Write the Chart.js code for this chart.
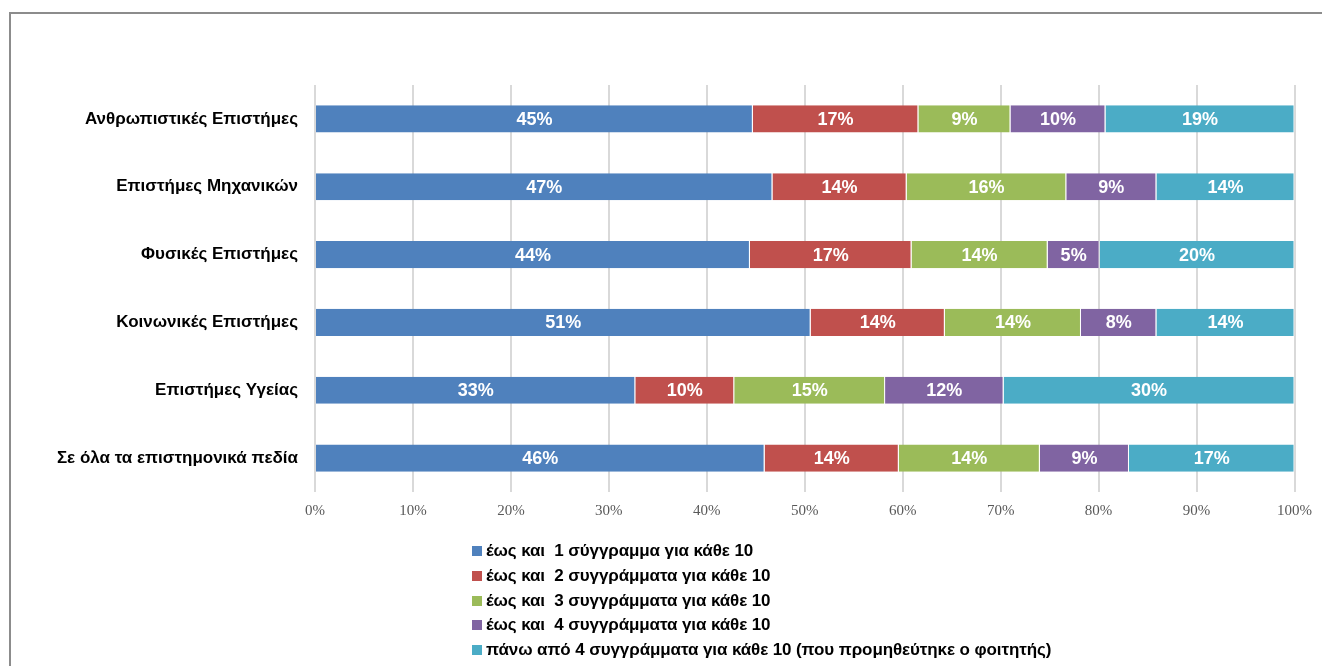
<!DOCTYPE html>
<html>
<head>
<meta charset="utf-8">
<script src="https://cdn.jsdelivr.net/npm/chart.js@4"></script>
<style>
  body { margin: 0; background: #fff; overflow: hidden; }
  #wrap { position: relative; width: 1322px; height: 666px; }
  #frame { position: absolute; left: 9px; top: 12px; width: 1400px; height: 700px; border: 2px solid #8c8c8c; box-sizing: border-box; }
  canvas { position: absolute; left: 0; top: 0; }
  #legend { position: absolute; left: 472px; top: 539px; margin: 0; padding: 0; list-style: none;
    font-family: "Liberation Sans", Arial, sans-serif; font-weight: bold; font-size: 17px; color: #000; letter-spacing: -0.1px; }
  #legend li { height: 24.8px; line-height: 24.8px; white-space: pre; }
  #legend span { display: inline-block; width: 10px; height: 10px; margin-right: 4px; vertical-align: 0px; }
</style>
</head>
<body>
<div id="wrap">
  <div id="frame"></div>
  <canvas id="chart" width="1322" height="666"></canvas>
  <ul id="legend"></ul>
</div>
<script>
const categories = [
  'Ανθρωπιστικές Επιστήμες',
  'Επιστήμες Μηχανικών',
  'Φυσικές Επιστήμες',
  'Κοινωνικές Επιστήμες',
  'Επιστήμες Υγείας',
  'Σε όλα τα επιστημονικά πεδία'
];

const seriesNames = [
  'έως και  1 σύγγραμμα για κάθε 10',
  'έως και  2 συγγράμματα για κάθε 10',
  'έως και  3 συγγράμματα για κάθε 10',
  'έως και  4 συγγράμματα για κάθε 10',
  'πάνω από 4 συγγράμματα για κάθε 10 (που προμηθεύτηκε ο φοιτητής)'
];

// percent of students
const upTo1 = [44.7, 46.7, 44.4, 50.6, 32.7, 45.9];
const upTo2 = [16.9, 13.7, 16.5, 13.7, 10.1, 13.7];
const upTo3 = [9.4, 16.3, 13.9, 13.9, 15.4, 14.4];
const upTo4 = [9.7, 9.2, 5.3, 7.7, 12.1, 9.1];
const over4 = [19.3, 14.1, 19.9, 14.1, 29.7, 16.9];

const xTicks = [0, 10, 20, 30, 40, 50, 60, 70, 80, 90, 100];

const colors = ['#4f81bd', '#c0504d', '#9bbb59', '#8064a2', '#4bacc6'];
const allSeries = [upTo1, upTo2, upTo3, upTo4, over4];

const barLabels = {
  id: 'barLabels',
  afterDatasetsDraw(chart) {
    const ctx = chart.ctx;
    ctx.save();
    ctx.fillStyle = '#fff';
    ctx.font = 'bold 18px "Liberation Sans", Arial, sans-serif';
    ctx.textAlign = 'center';
    ctx.textBaseline = 'middle';
    chart.data.datasets.forEach((ds, i) => {
      chart.getDatasetMeta(i).data.forEach((bar, j) => {
        const c = bar.getCenterPoint();
        ctx.fillText(Math.round(ds.data[j]) + '%', c.x, c.y + 1);
      });
    });
    ctx.restore();
  }
};

const config = {
  type: 'bar',
  data: {
    labels: categories,
    datasets: allSeries.map((d, i) => ({
      label: seriesNames[i],
      data: d,
      backgroundColor: colors[i],
      borderColor: '#fff',
      borderWidth: { left: 0, right: 1, top: 0, bottom: 0 },
      borderSkipped: false,
      barPercentage: 0.4,
      categoryPercentage: 1
    }))
  },
  options: {
    indexAxis: 'y',
    responsive: false,
    animation: false,
    layout: { padding: { top: 85, right: 27, bottom: 144, left: 0 } },
    plugins: {
      legend: { display: false },
      tooltip: { enabled: false }
    },
    scales: {
      x: {
        stacked: true,
        min: 0,
        max: 100,
        afterBuildTicks(scale) { scale.ticks = xTicks.map(v => ({ value: v })); },
        afterFit(scale) { scale.height = 30; },
        grid: { color: '#d9d9d9', lineWidth: 2, drawTicks: false },
        border: { display: false },
        ticks: {
          padding: 10,
          color: '#595959',
          font: { family: '"Liberation Serif", "Times New Roman", serif', size: 15 },
          callback: v => v + '%'
        }
      },
      y: {
        stacked: true,
        afterFit(scale) { scale.width = 315; },
        grid: { display: false, drawTicks: false },
        border: { display: false },
        ticks: {
          padding: 17,
          color: '#000',
          font: { family: '"Liberation Sans", Arial, sans-serif', size: 17, weight: 'bold' }
        }
      }
    }
  },
  plugins: [barLabels]
};

const chart = new Chart(document.getElementById('chart').getContext('2d'), config);

const legendList = document.getElementById('legend');
chart.data.datasets.forEach(ds => {
  const li = document.createElement('li');
  const box = document.createElement('span');
  box.style.background = ds.backgroundColor;
  li.appendChild(box);
  li.appendChild(document.createTextNode(ds.label));
  legendList.appendChild(li);
});
</script>
</body>
</html>
